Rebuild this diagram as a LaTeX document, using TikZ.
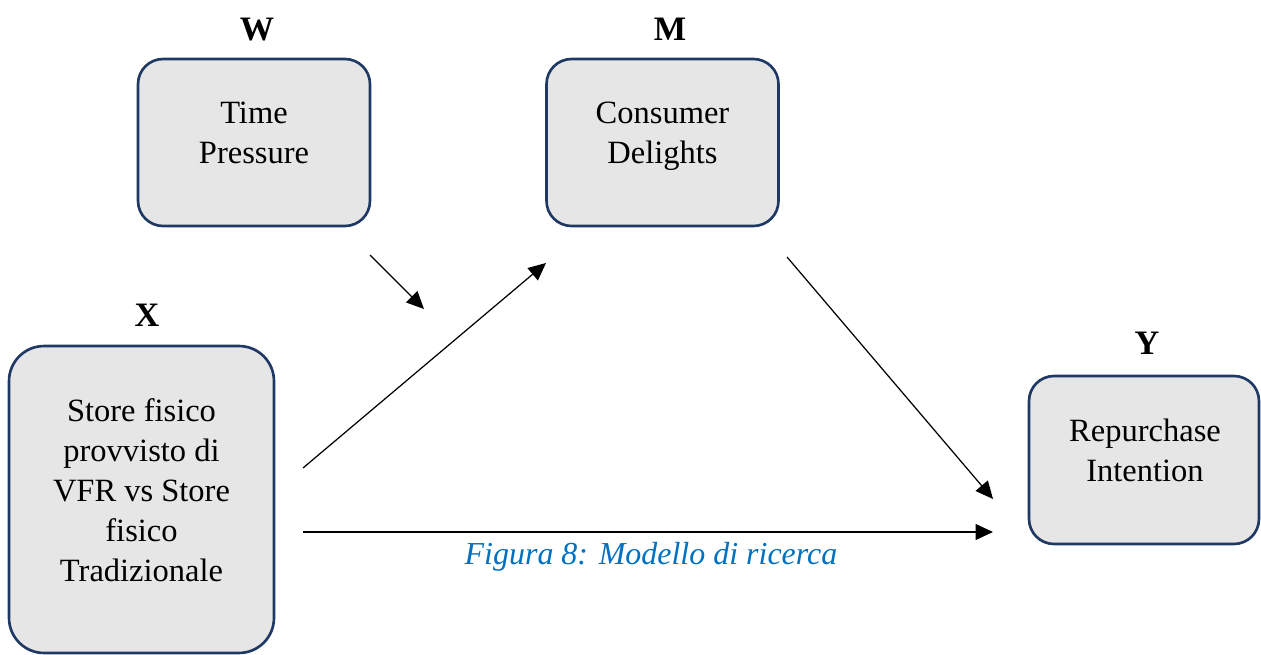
\documentclass[tikz,border=0pt]{standalone}
\usepackage{fontspec}
\setmainfont{Liberation Serif}
\usepackage{tikz}
\usetikzlibrary{arrows.meta}
\usetikzlibrary{calc}
\definecolor{boxline}{RGB}{31,56,100}
\definecolor{boxfill}{RGB}{231,230,230}
\definecolor{capblue}{RGB}{0,112,192}

\begin{document}
\begin{tikzpicture}[x=0.02cm,y=-0.02cm,
    box/.style={draw=boxline,line width=1.5pt,fill=boxfill,rounded corners=0.5cm},
    txt/.style={align=center,font=\fontsize{18.5}{22.8}\selectfont},
    lbl/.style={anchor=base,font=\fontsize{19.5}{23}\selectfont\bfseries},
    arr/.style={-{Triangle[length=0.35cm,width=0.32cm]},line width=0.7pt}]
    \useasboundingbox (0,0) rectangle (1261,655);

    \node[box,minimum width=4.64cm,minimum height=3.34cm] (W) at (254,142.5) {};
    \node[box,minimum width=4.64cm,minimum height=3.34cm] (M) at (662.5,142.5) {};
    \node[box,rounded corners=0.7cm,minimum width=5.3cm,minimum height=6.14cm] (X) at (141.5,499.5) {};
    \node[box,minimum width=4.6cm,minimum height=3.36cm] (Y) at (1144,460) {};

    \node[txt] (Wt) at (254,133) {Time\\Pressure};
    \node[txt] (Mt) at (662.5,136.5) {Consumer\\Delights};
    \node[txt] (Xt) at (141.5,490.5) {Store fisico\\provvisto di\\VFR vs Store\\fisico\\Tradizionale};
    \node[txt] (Yt) at (1145,450) {Repurchase\\Intention};

    \node[lbl] (Wl) at (257,41) {W};
    \node[lbl] (Ml) at (670,41) {M};
    \node[lbl] (Xl) at (147,326) {X};
    \node[lbl] (Yl) at (1147,354) {Y};

    \coordinate (W1) at (370,255);
    \coordinate (W2) at (424,309);
    \coordinate (X1) at (303,468);
    \coordinate (X2) at (303,532);
    \coordinate (M1) at (546,263);
    \coordinate (M2) at (787,257);
    \coordinate (Y1) at (993,499);
    \coordinate (Y2) at (993,532);

    \draw[arr] (W1) -- (W2);
    \draw[arr] (X1) -- (M1);
    \draw[arr] (M2) -- (Y1);
    \draw[arr] (X2) -- (Y2);

    \node[anchor=base,text=capblue,font=\fontsize{18.2}{22.8}\selectfont\itshape] (cap) at (651,564) {Figura 8: Modello di ricerca};
\end{tikzpicture}
\end{document}
